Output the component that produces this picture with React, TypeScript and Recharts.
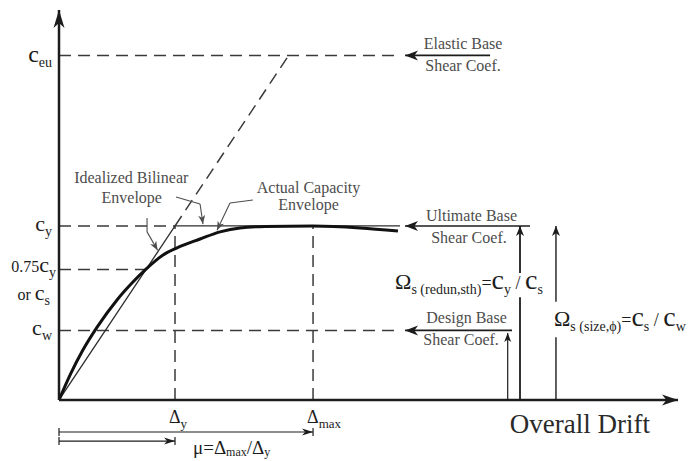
import React from "react";
import { ComposedChart, Line, XAxis, YAxis, ReferenceLine, ReferenceDot } from "recharts";

const FONT = "'Liberation Serif', 'Tinos', 'DejaVu Serif', serif";
const INK = "#1c1c1c";
const NOTE = "#4d4d4d";
const DASH = "#3a3a3a";

// drift in multiples of Δy, base shear coefficient in multiples of c_y
const capacityDrift = [0, 0.1, 0.2, 0.33, 0.5, 0.629, 0.75, 0.897, 1.017, 1.216, 1.388, 1.56, 1.776, 2.19, 2.595, 2.922];
const capacityCoef = [0, 0.15, 0.28, 0.42, 0.575, 0.672, 0.752, 0.833, 0.874, 0.925, 0.966, 0.989, 0.997, 1.0, 0.989, 0.971];

const bilinearDrift = [0, 1, 2.94];
const bilinearCoef = [0, 1, 1];

// coefficient levels: c_w, 0.75c_y (c_s), c_y, c_eu
const C_W = 0.4;
const C_S = 0.75;
const C_Y = 1;
const C_EU = 1.98;
const coefTicks = [C_W, C_S, C_Y, C_EU];

// drift levels: Δy, Δmax
const D_Y = 1;
const D_MAX = 2.19;
const driftTicks = [D_Y, D_MAX];

const X_END = 5.336;
const Y_END = 2.241;

const capacity = capacityDrift.map((d, i) => ({ d, c: capacityCoef[i] }));
const bilinear = bilinearDrift.map((d, i) => ({ d, c: bilinearCoef[i] }));

type Run = [string, number, boolean?];

function Rich({ x, y, runs, anchor = "start", fill = INK, drop = 5 }: { x: number; y: number; runs: Run[]; anchor?: string; fill?: string; drop?: number }) {
  let sub = false;
  return (
    <text x={x} y={y} textAnchor={anchor as any} fill={fill} style={{ fontFamily: FONT, whiteSpace: "pre" }}>
      {runs.map(([t, size, s], i) => {
        const isSub = !!s;
        const dy = isSub === sub ? 0 : isSub ? drop : -drop;
        sub = isSub;
        return (
          <tspan key={i} fontSize={size} dy={dy}>
            {t}
          </tspan>
        );
      })}
    </text>
  );
}

function headPoints(tx: number, ty: number, ang: number, len: number, half: number) {
  const cos = Math.cos(ang);
  const sin = Math.sin(ang);
  const bx = tx - len * cos;
  const by = ty - len * sin;
  const nx = -sin;
  const ny = cos;
  const mx = tx - len * 0.72 * cos;
  const my = ty - len * 0.72 * sin;
  return `${tx},${ty} ${bx + half * nx},${by + half * ny} ${mx},${my} ${bx - half * nx},${by - half * ny}`;
}

type ArrowOpts = { color?: string; width?: number; head?: boolean; bars?: boolean; len?: number; half?: number };

const arrowShape = ({ color = INK, width = 1.4, head = true, bars = false, len = 12, half = 4.5 }: ArrowOpts) => (p: any) => {
  const { x1, y1, x2, y2 } = p;
  const ang = Math.atan2(y2 - y1, x2 - x1);
  return (
    <g>
      <line x1={x1} y1={y1} x2={x2} y2={y2} stroke={color} strokeWidth={width} />
      {head && <polygon points={headPoints(x2, y2, ang, len, half)} fill={color} />}
      {bars && (
        <g stroke={color} strokeWidth={width}>
          <line x1={x1} y1={y1 - 4} x2={x1} y2={y1 + 4} />
          <line x1={x2} y1={y2 - 4} x2={x2} y2={y2 + 4} />
        </g>
      )}
    </g>
  );
};

const seg = (key: string, a: [number, number], b: [number, number], opts: ArrowOpts = {}) => (
  <ReferenceLine
    key={key}
    segment={[{ x: a[0], y: a[1] }, { x: b[0], y: b[1] }]}
    ifOverflow="visible"
    shape={arrowShape(opts)}
  />
);

const dashed = (key: string, a: [number, number], b: [number, number]) => (
  <ReferenceLine
    key={key}
    segment={[{ x: a[0], y: a[1] }, { x: b[0], y: b[1] }]}
    ifOverflow="visible"
    stroke={DASH}
    strokeWidth={1.5}
    strokeDasharray="12 7"
  />
);

const note = (key: string, x: number, y: number, runs: Run[], anchor = "middle", fill = NOTE, dy = 5, drop = 5) => (
  <ReferenceDot
    key={key}
    x={x}
    y={y}
    r={0}
    ifOverflow="visible"
    shape={(p: any) => <Rich x={p.cx} y={p.cy + dy} runs={runs} anchor={anchor} fill={fill} drop={drop} />}
  />
);

const CoefTick = (p: any) => {
  const { x, y, payload } = p;
  const v = payload.value;
  if (v === C_EU) return <Rich x={x - 3} y={y + 7} anchor="end" runs={[["c", 24], ["eu", 14, true]]} />;
  if (v === C_Y) return <Rich x={x - 3} y={y + 5} anchor="end" runs={[["c", 22], ["y", 14, true]]} />;
  if (v === C_W) return <Rich x={x - 3} y={y + 5} anchor="end" runs={[["c", 22], ["w", 14, true]]} />;
  return (
    <g>
      <Rich x={x + 1} y={y + 3} anchor="end" runs={[["0.75", 16], ["c", 22], ["y", 14, true]]} />
      <Rich x={x - 5} y={y + 31} anchor="end" runs={[["or ", 16], ["c", 22], ["s", 14, true]]} />
    </g>
  );
};

const DriftTick = (p: any) => {
  const { x, y, payload } = p;
  const sub = payload.value === D_Y ? "y" : "max";
  return <Rich x={x - 6} y={y + 23} runs={[["Δ", 18], [sub, 13, true]]} />;
};

export default function App() {
  return (
    <div style={{ position: "fixed", left: 0, top: 0, background: "#fff" }}>
      <ComposedChart width={698} height={461} margin={{ top: 10, right: 20, bottom: 0, left: 0 }}>
        <XAxis
          type="number"
          dataKey="d"
          domain={[0, X_END]}
          allowDataOverflow
          ticks={driftTicks}
          tick={<DriftTick />}
          tickLine={false}
          tickSize={0}
          tickMargin={0}
          height={61}
          axisLine={{ stroke: INK, strokeWidth: 2.5 }}
        />
        <YAxis
          type="number"
          dataKey="c"
          domain={[0, Y_END]}
          allowDataOverflow
          ticks={coefTicks}
          tick={<CoefTick />}
          tickLine={false}
          tickSize={0}
          tickMargin={4}
          width={59}
          axisLine={{ stroke: INK, strokeWidth: 2.5 }}
        />

        {dashed("ceu", [0, C_EU], [2.94, C_EU])}
        {dashed("cw", [0, C_W], [2.94, C_W])}
        {dashed("cy", [0, C_Y], [D_Y, C_Y])}
        {dashed("cs", [0, C_S], [C_S, C_S])}
        {dashed("dy", [D_Y, 0], [D_Y, C_Y])}
        {dashed("dmax", [D_MAX, 0], [D_MAX, C_Y])}
        {dashed("elastic", [D_Y, C_Y], [C_EU, C_EU])}

        <Line
          data={bilinear}
          dataKey="c"
          type="linear"
          stroke="#2e2e2e"
          strokeWidth={1.3}
          dot={false}
          isAnimationActive={false}
        />
        <Line
          data={capacity}
          dataKey="c"
          type="monotone"
          stroke="#111"
          strokeWidth={3}
          dot={false}
          isAnimationActive={false}
        />

        {/* base shear arrows on the right */}
        {seg("elasticArrow", [3.716, C_EU], [2.983, C_EU], { width: 1.6, len: 13, half: 5 })}
        {seg("ultimateArrow", [4.06, C_Y], [2.983, C_Y], { width: 1.6, len: 13, half: 5 })}
        {seg("designArrow", [3.905, C_W], [2.983, C_W], { width: 1.6, len: 13, half: 5 })}
        {seg("designUp", [3.868, 0], [3.868, C_W - 0.015], { width: 1.2, len: 9, half: 3.5 })}
        {seg("redunLow", [3.974, 0], [3.974, 0.59], { width: 1.8, head: false })}
        {seg("redunUp", [3.974, 0.73], [3.974, C_Y], { width: 1.8, len: 10, half: 4 })}
        {seg("sizeLow", [4.284, 0], [4.284, 0.36], { width: 1.4, head: false })}
        {seg("sizeUp", [4.284, 0.565], [4.284, C_Y], { width: 1.4, len: 10, half: 4 })}

        {/* leaders for the envelope notes */}
        {seg("l1a", [0.759, 1.046], [0.759, 0.966], { color: NOTE, width: 1.1, head: false })}
        {seg("l1b", [0.759, 0.966], [0.85, 0.86], { color: NOTE, width: 1.1, len: 9, half: 3.5 })}
        {seg("l2a", [1.009, 1.167], [1.216, 1.126], { color: NOTE, width: 1.1, head: false })}
        {seg("l2b", [1.216, 1.126], [1.241, 1.011], { color: NOTE, width: 1.1, len: 9, half: 3.5 })}
        {seg("l3a", [1.672, 1.149], [1.474, 1.132], { color: NOTE, width: 1.1, head: false })}
        {seg("l3b", [1.474, 1.132], [1.362, 0.975], { color: NOTE, width: 1.1, len: 9, half: 3.5 })}

        {/* ductility arrows under the axis */}
        {seg("muMax", [0, -0.184], [D_MAX, -0.184], { width: 1.2, bars: true, len: 11, half: 3.5 })}
        {seg("muY", [0, -0.236], [D_Y, -0.236], { width: 1.2, bars: true, len: 11, half: 3.5 })}

        {/* axis arrowheads */}
        <ReferenceDot
          x={0}
          y={Y_END}
          r={0}
          ifOverflow="visible"
          shape={(p: any) => <polygon points={headPoints(p.cx, p.cy, -Math.PI / 2, 18, 5.5)} fill={INK} />}
        />
        <ReferenceDot
          x={X_END}
          y={0}
          r={0}
          ifOverflow="visible"
          shape={(p: any) => <polygon points={headPoints(p.cx, p.cy, 0, 16, 5.5)} fill={INK} />}
        />

        {note("elastic1", 3.483, 2.046, [["Elastic Base", 16]])}
        {note("elastic2", 3.483, 1.92, [["Shear Coef.", 16]])}
        {note("ult1", 3.556, 1.057, [["Ultimate Base", 16]])}
        {note("ult2", 3.534, 0.931, [["Shear Coef.", 16]])}
        {note("des1", 3.513, 0.471, [["Design Base", 16]])}
        {note("des2", 3.466, 0.345, [["Shear Coef.", 16]])}
        {note("bil1", 0.623, 1.276, [["Idealized Bilinear", 16]])}
        {note("bil2", 0.627, 1.161, [["Envelope", 16]])}
        {note("act1", 2.151, 1.218, [["Actual Capacity", 16]])}
        {note("act2", 2.151, 1.121, [["Envelope", 16]])}

        {note(
          "omegaRedun",
          2.897,
          0.672,
          [["Ω", 22], ["s (redun,sth)", 14, true], ["=", 18], ["c", 28], ["y", 14, true], [" / ", 18], ["c", 28], ["s", 14, true]],
          "start",
          INK,
          6
        )}
        {note(
          "omegaSize",
          4.267,
          0.46,
          [["Ω", 22], ["s (size,ϕ)", 14, true], ["=", 18], ["c", 28], ["s", 14, true], [" / ", 18], ["c", 28], ["w", 14, true]],
          "start",
          INK,
          6
        )}
        {note("drift", 4.491, -0.19, [["Overall Drift", 27]], "middle", "#2a2a2a", 0)}
        {note(
          "mu",
          1.155,
          -0.31,
          [["μ=Δ", 19], ["max", 12, true], ["/Δ", 19], ["y", 12, true]],
          "start",
          INK,
          0,
          2
        )}
      </ComposedChart>
    </div>
  );
}
